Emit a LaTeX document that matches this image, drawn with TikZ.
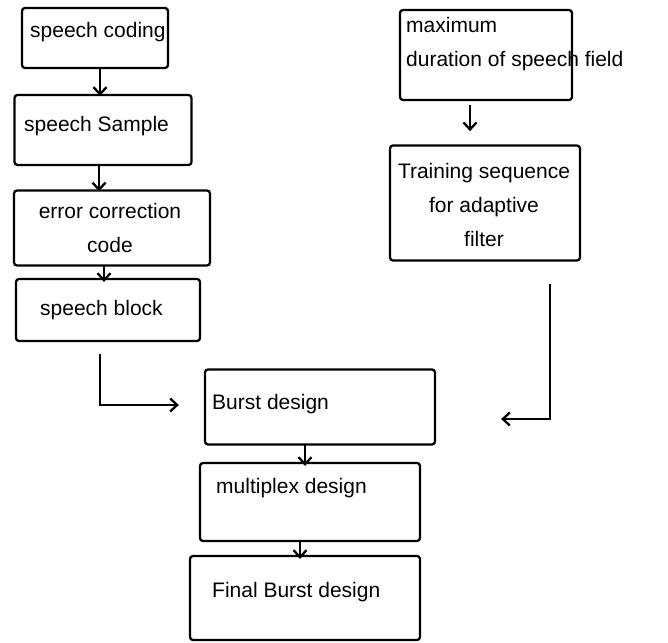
\documentclass[tikz,border=0pt]{standalone}
\usepackage{fontspec}
\setmainfont{Liberation Sans}
\usetikzlibrary{arrows.meta}
\begin{document}
\begin{tikzpicture}[x=1pt,y=-1pt,
  box/.style={draw,line width=2.3pt,rounded corners=3pt,inner sep=0pt},
  txt/.style={font=\fontsize{21}{34}\selectfont,inner sep=0pt,anchor=west,align=left},
  arr/.style={line width=2.3pt,-{Straight Barb[length=7pt,width=13pt,line width=2.3pt]}}]
\useasboundingbox (0,0) rectangle (668,642);
% left column
\node[box,minimum width=146pt,minimum height=60pt] (b1) at (95,38) {};
\node[txt] (t1) at (30,32) {speech coding};
\node[box,minimum width=177pt,minimum height=70pt] (b2) at (103,130) {};
\node[txt] (t2) at (24,126) {speech Sample};
\node[box,minimum width=196pt,minimum height=75pt] (b3) at (112,228) {};
\node[txt,anchor=center,align=center] (t3) at (110,228) {error correction\\code};
\node[box,minimum width=184pt,minimum height=62pt] (b4) at (108,310) {};
\node[txt] (t4) at (40,310) {speech block};
% right column
\node[box,minimum width=172pt,minimum height=90pt] (r1) at (486,55) {};
\node[txt] (tr1) at (406,44) {maximum\\duration of speech field};
\node[box,minimum width=190pt,minimum height=115pt] (r2) at (485,203) {};
\node[txt,anchor=center,align=center] (tr2) at (484,205) {Training sequence\\for adaptive\\filter};
% center column
\node[box,minimum width=230pt,minimum height=75pt] (c1) at (320,407) {};
\node[txt] (tc1) at (212,404) {Burst design};
\node[box,minimum width=220pt,minimum height=78pt] (c2) at (310,502) {};
\node[txt] (tc2) at (216,488) {multiplex design};
\node[box,minimum width=230pt,minimum height=84pt] (c3) at (305,598) {};
\node[txt] (tc3) at (212,592) {Final Burst design};
% arrows
\draw[arr] ([xshift=5pt]b1.south) -- ([xshift=5pt,yshift=-2pt]b1.south |- b2.north);
\draw[arr] ([xshift=-4pt]b2.south) -- ([xshift=-4pt,yshift=-2pt]b2.south |- b3.north);
\draw[arr] ([xshift=-8pt,yshift=2pt]b3.south) -- ([xshift=-8pt,yshift=-4pt]b3.south |- b4.north);
\draw[arr] ([xshift=-16pt,yshift=-4pt]r1.south) -- ([xshift=-16pt,yshift=-30pt]r1.south);
\draw[arr] ([xshift=-8pt,yshift=-12pt]b4.south) |- ([xshift=-25pt,yshift=2pt]c1.west);
\draw[arr] ([xshift=65pt,yshift=-22pt]r2.south) |- ([xshift=65pt,yshift=-12pt]c1.east);
\draw[arr] ([xshift=-15pt,yshift=2pt]c1.south) -- ([xshift=-15pt,yshift=-4pt]c1.south |- c2.north);
\draw[arr] ([xshift=-10pt,yshift=2pt]c2.south) -- ([xshift=-10pt,yshift=-4pt]c2.south |- c3.north);
\end{tikzpicture}
\end{document}
